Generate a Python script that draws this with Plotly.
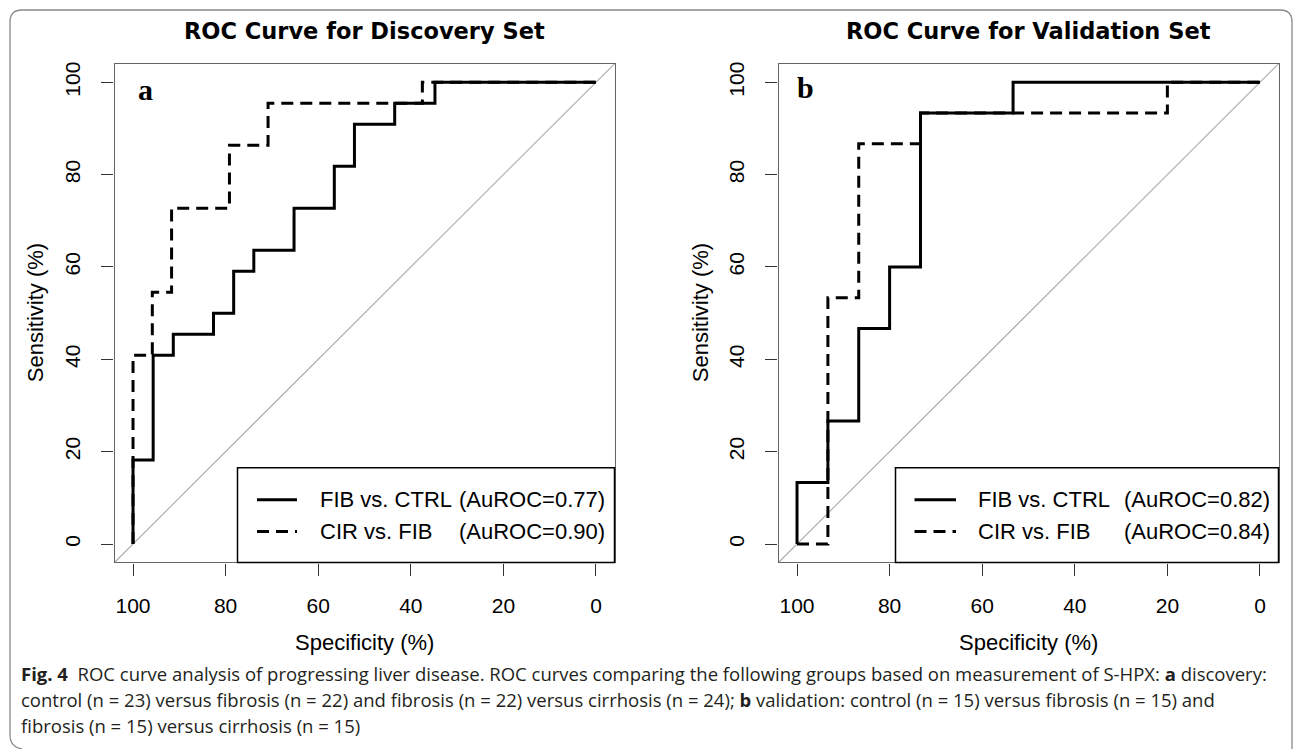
import plotly.graph_objects as go

W, H = 1293, 749

# ---------------- data (specificity %, sensitivity %) ----------------
disc_fib_ctrl_spec = [100, 100, 95.65, 95.65, 91.30, 91.30, 82.61, 82.61, 78.26, 78.26, 73.91, 73.91,
                      65.22, 65.22, 56.52, 56.52, 52.17, 52.17, 43.48, 43.48, 34.78, 34.78, 0]
disc_fib_ctrl_sens = [0, 18.18, 18.18, 40.91, 40.91, 45.45, 45.45, 50.00, 50.00, 59.09, 59.09, 63.64,
                      63.64, 72.73, 72.73, 81.82, 81.82, 90.91, 90.91, 95.45, 95.45, 100, 100]

disc_cir_fib_spec = [100, 100, 95.83, 95.83, 91.67, 91.67, 79.17, 79.17, 70.83, 70.83, 37.50, 37.50, 0]
disc_cir_fib_sens = [0, 40.91, 40.91, 54.55, 54.55, 72.73, 72.73, 86.36, 86.36, 95.45, 95.45, 100, 100]

val_fib_ctrl_spec = [100, 100, 93.33, 93.33, 86.67, 86.67, 80.00, 80.00, 73.33, 73.33, 53.33, 53.33, 0]
val_fib_ctrl_sens = [0, 13.33, 13.33, 26.67, 26.67, 46.67, 46.67, 60.00, 60.00, 93.33, 93.33, 100, 100]

val_cir_fib_spec = [100, 93.33, 93.33, 86.67, 86.67, 73.33, 73.33, 20.00, 20.00, 0]
val_cir_fib_sens = [0, 0, 53.33, 53.33, 86.67, 86.67, 93.33, 93.33, 100, 100]

tick_vals = [0, 20, 40, 60, 80, 100]
tick_text = ["0", "20", "40", "60", "80", "100"]

titles = ["ROC Curve for Discovery Set", "ROC Curve for Validation Set"]
legend_names_a = ["FIB vs. CTRL", "CIR vs. FIB"]
legend_auc_a = ["(AuROC=0.77)", "(AuROC=0.90)"]
legend_names_b = ["FIB vs. CTRL", "CIR vs. FIB"]
legend_auc_b = ["(AuROC=0.82)", "(AuROC=0.84)"]

caption_lines = [
    "<b>Fig. 4</b>\u00a0\u00a0ROC curve analysis of progressing liver disease. ROC curves comparing the following groups based on measurement of S-HPX: <b>a</b> discovery:",
    "control (n = 23) versus fibrosis (n = 22) and fibrosis (n = 22) versus cirrhosis (n = 24); <b>b</b> validation: control (n = 15) versus fibrosis (n = 15) and",
    "fibrosis (n = 15) versus cirrhosis (n = 15)",
]

# ---------------- helpers ----------------
def px(x):
    return x / W

def py(y):
    return 1 - y / H

FONT = "Liberation Sans, Arial, Helvetica, sans-serif"
TFONT = "DejaVu Sans, Liberation Sans, sans-serif"
SERIF = "Liberation Serif, Times New Roman, serif"
CAPFONT = "Open Sans, Noto Sans, sans-serif"

panels = [
    dict(left=114.5, right=614.5, ytitle=35),
    dict(left=778.5, right=1278.5, ytitle=700),
]
BOX_TOP, BOX_BOT = 62, 562
DASH = "12px,7px"

fig = go.Figure()

series = [
    (disc_fib_ctrl_spec, disc_fib_ctrl_sens, "solid", "x", "y"),
    (disc_cir_fib_spec, disc_cir_fib_sens, DASH, "x", "y"),
    (val_fib_ctrl_spec, val_fib_ctrl_sens, "solid", "x2", "y2"),
    (val_cir_fib_spec, val_cir_fib_sens, DASH, "x2", "y2"),
]
# dashed first so the solid curve sits on top where they overlap
for order in [DASH, "solid"]:
    for sx, sy, dash, xa, ya in series:
        if dash != order:
            continue
        fig.add_trace(go.Scatter(
            x=sx, y=sy, mode="lines", xaxis=xa, yaxis=ya,
            line=dict(color="black", width=3, dash=dash),
            showlegend=False, hoverinfo="skip",
        ))

axis_common = dict(
    showgrid=False, zeroline=False, showline=True, mirror=True,
    linecolor="#666", linewidth=1.1, ticks="outside", ticklen=12,
    tickwidth=1.3, tickcolor="#333", tickvals=tick_vals, ticktext=tick_text,
    tickfont=dict(family=FONT, size=21, color="black"),
    fixedrange=True,
)

layout_axes = {}
for i, p in enumerate(panels):
    sfx = "" if i == 0 else str(i + 1)
    layout_axes["xaxis" + sfx] = dict(
        axis_common, domain=[px(p["left"]), px(p["right"])], range=[104, -4],
        anchor="y" + sfx, ticklabelstandoff=12,
    )
    layout_axes["yaxis" + sfx] = dict(
        axis_common, domain=[py(BOX_BOT), py(BOX_TOP)], range=[-4, 104],
        anchor="x" + sfx, tickangle=-90, ticklabelstandoff=13,
    )

shapes = []
annotations = []

for i, p in enumerate(panels):
    sfx = "" if i == 0 else str(i + 1)
    # chance diagonal, corner to corner of the plot box
    shapes.append(dict(type="line", xref=("x" + sfx + " domain"), yref=("y" + sfx + " domain"),
                       x0=0, y0=0, x1=1, y1=1, line=dict(color="#aaaaaa", width=1.1), layer="below"))
    cx = (p["left"] + p["right"]) / 2
    annotations.append(dict(text="<b>%s</b>" % titles[i], x=px(cx), y=py(29), xref="paper", yref="paper",
                            showarrow=False, xanchor="center", yanchor="middle",
                            font=dict(family=TFONT, size=22.5, color="black")))
    annotations.append(dict(text="Specificity (%)", x=px(cx), y=py(642), xref="paper", yref="paper",
                            showarrow=False, xanchor="center", yanchor="middle",
                            font=dict(family=FONT, size=22, color="black")))
    annotations.append(dict(text="Sensitivity (%)", x=px(p["ytitle"]), y=py((BOX_TOP + BOX_BOT) / 2),
                            xref="paper", yref="paper", showarrow=False, textangle=-90,
                            xanchor="center", yanchor="middle",
                            font=dict(family=FONT, size=22, color="black")))

# panel letters
annotations.append(dict(text="<b>a</b>", x=px(136), y=py(88), xref="paper", yref="paper", showarrow=False,
                        xanchor="left", yanchor="middle", font=dict(family=SERIF, size=30, color="black")))
annotations.append(dict(text="<b>b</b>", x=px(795), y=py(86), xref="paper", yref="paper", showarrow=False,
                        xanchor="left", yanchor="middle", font=dict(family=SERIF, size=30, color="black")))

# legends (drawn boxes)
legend_specs = [
    dict(box=(237.5, 614.5), line=(257, 297), text=317.5, auc=456.5, names=legend_names_a, aucs=legend_auc_a),
    dict(box=(895.5, 1278.5), line=(914.5, 956), text=975.5, auc=1121.5, names=legend_names_b, aucs=legend_auc_b),
]
row_y = [499, 531]
for L in legend_specs:
    shapes.append(dict(type="rect", xref="paper", yref="paper",
                       x0=px(L["box"][0]), x1=px(L["box"][1]), y0=py(BOX_BOT), y1=py(467),
                       line=dict(color="black", width=1.5), fillcolor="white", layer="above"))
    for r in range(2):
        shapes.append(dict(type="line", xref="paper", yref="paper",
                           x0=px(L["line"][0]), x1=px(L["line"][1]), y0=py(row_y[r]), y1=py(row_y[r]),
                           line=dict(color="black", width=3, dash=("solid" if r == 0 else DASH)),
                           layer="above"))
        annotations.append(dict(text=L["names"][r], x=px(L["text"]), y=py(row_y[r]), xref="paper",
                                yref="paper", showarrow=False, xanchor="left", yanchor="middle",
                                font=dict(family=FONT, size=22, color="black")))
        annotations.append(dict(text=L["aucs"][r], x=px(L["auc"]), y=py(row_y[r]), xref="paper",
                                yref="paper", showarrow=False, xanchor="left", yanchor="middle",
                                font=dict(family=FONT, size=22, color="black")))

# caption
cap_y = [673, 699, 725]
for line, yy in zip(caption_lines, cap_y):
    annotations.append(dict(text=line, x=px(19), y=py(yy), xref="paper", yref="paper", showarrow=False,
                            xanchor="left", yanchor="middle",
                            font=dict(family=CAPFONT, size=18.5, color="#231f20")))

# outer rounded frame
frame = ("M %f,%f Q %f,%f %f,%f L %f,%f Q %f,%f %f,%f L %f,%f Q %f,%f %f,%f L %f,%f" % (
    px(22), py(749), px(10), py(747), px(10), py(735),
    px(10), py(20), px(10), py(8), px(22), py(8),
    px(1280), py(8), px(1292), py(8), px(1292), py(20),
    px(1292), py(749)))
shapes.append(dict(type="path", xref="paper", yref="paper", path=frame,
                   line=dict(color="#8a8a8a", width=1.3)))

fig.update_layout(
    width=W, height=H, margin=dict(l=0, r=0, t=0, b=0),
    paper_bgcolor="white", plot_bgcolor="white",
    shapes=shapes, annotations=annotations, showlegend=False,
    **layout_axes,
)

fig.write_html("out.html", config={"displayModeBar": False, "responsive": False})
